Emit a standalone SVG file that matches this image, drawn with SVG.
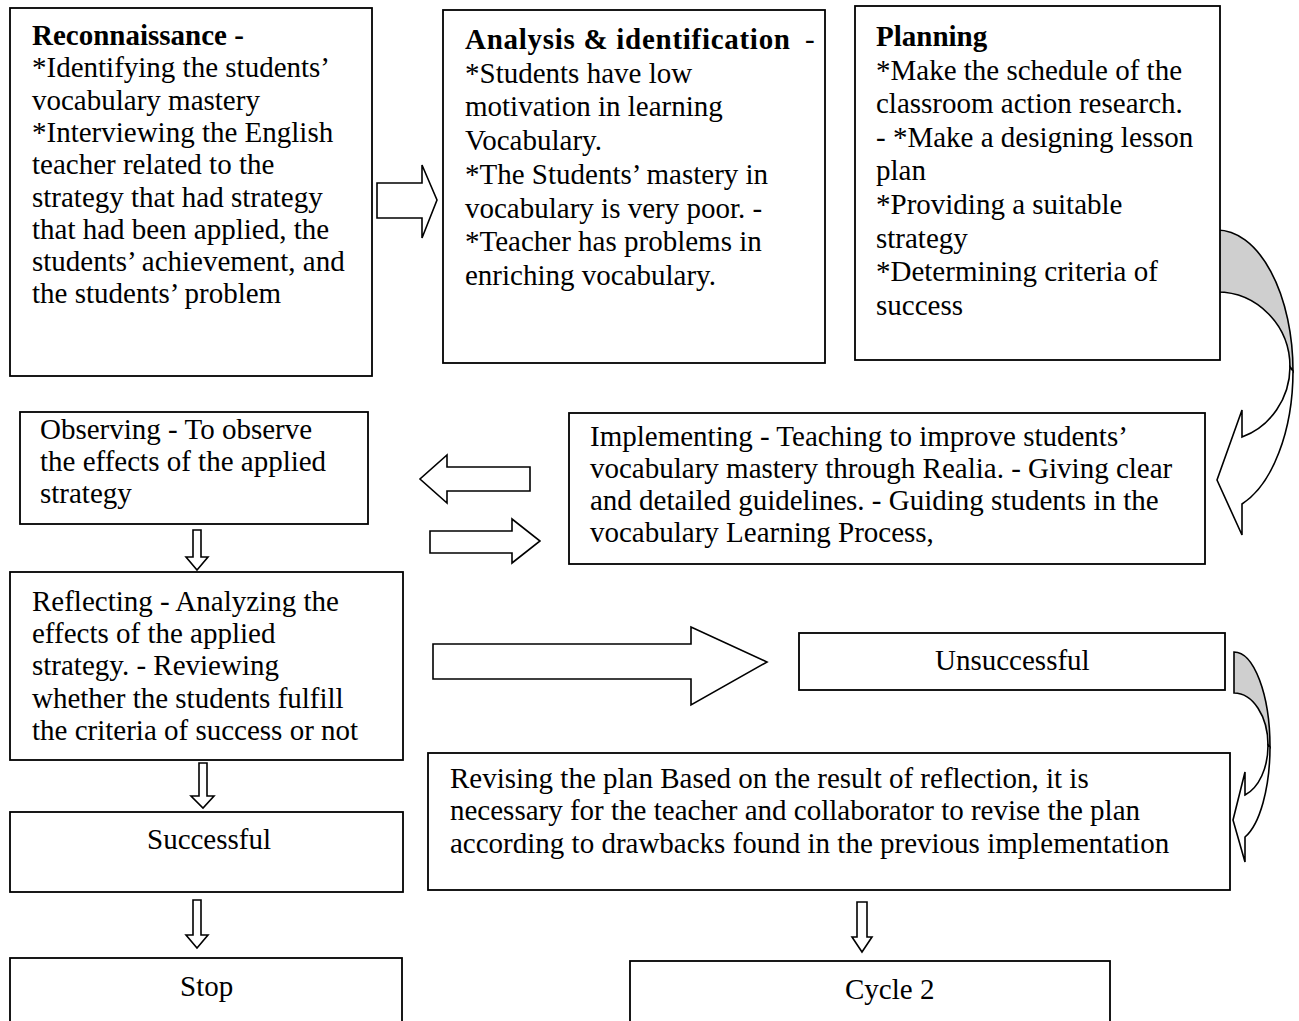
<svg xmlns="http://www.w3.org/2000/svg" width="1299" height="1021" viewBox="0 0 1299 1021">
<style>
.box{fill:#fff;stroke:#000;stroke-width:1.8}
.arr{fill:#fff;stroke:#000;stroke-width:1.6;stroke-linejoin:miter}
.shade{fill:#cfcfcf;stroke:#000;stroke-width:1.6}
text{font-family:"Liberation Serif","Times New Roman",serif;font-size:29px;fill:#000}
.b{font-weight:bold}
</style>
<rect width="1299" height="1021" fill="#fff"/>
<g id="connectors">
<polygon class="arr" points="377,183 422,183 422,165 437,200 422,238 422,218 377,218"/>
<polygon class="arr" points="530,467 447,467 447,455 420,479 447,503 447,491 530,491"/>
<polygon class="arr" points="430,531 512,531 512,519 540,541 512,563 512,553 430,553"/>
<polygon class="arr" points="433,644 691,644 691,627 767,662 691,705 691,679 433,679"/>
<polygon class="arr" points="193,530 201,530 201,557 208,557 197,570 186,557 193,557"/>
<polygon class="arr" points="199,763 207,763 207,796 214,796 203,808 191,796 199,796"/>
<polygon class="arr" points="193,900 201,900 201,935 208,935 197,948 186,935 193,935"/>
<polygon class="arr" points="857,902 867,902 867,937 872,937 862,952 852,937 857,937"/>
<path class="shade" d="M1217,230 A76,141 0 0 1 1293,371 L1290,367 A73,75 0 0 0 1217,292 Z"/>
<path class="arr" d="M1293,371 A76,141 0 0 1 1242,504 L1242,535 L1217,480 L1242,410 L1242,437 A73,75 0 0 0 1290,367 Z"/>
<path class="shade" d="M1234,652 A36,95 0 0 1 1270,747 L1268,745 A34,52 0 0 0 1234,693 Z"/>
<path class="arr" d="M1270,747 A36,95 0 0 1 1245,837 L1245,862 L1233,820 L1245,772 L1245,795 A34,52 0 0 0 1268,745 Z"/>
</g>
<g id="reconnaissance">
<rect class="box" x="10" y="8" width="362" height="368"/>
<text x="32" y="45"><tspan class="b">Reconnaissance -</tspan></text>
<text x="32" y="77.3">*Identifying the students’</text>
<text x="32" y="109.6">vocabulary mastery</text>
<text x="32" y="141.9">*Interviewing the English</text>
<text x="32" y="174.2">teacher related to the</text>
<text x="32" y="206.5">strategy that had strategy</text>
<text x="32" y="238.8">that had been applied, the</text>
<text x="32" y="271.1">students’ achievement, and</text>
<text x="32" y="303.4">the students’ problem</text>
</g>
<g id="analysis">
<rect class="box" x="443" y="10" width="382" height="353"/>
<text x="465" y="49"><tspan class="b" textLength="325" lengthAdjust="spacing">Analysis &amp; identification</tspan><tspan x="805">-</tspan></text>
<text x="465" y="82.7">*Students have low</text>
<text x="465" y="116.4">motivation in learning</text>
<text x="465" y="150.1">Vocabulary.</text>
<text x="465" y="183.8">*The Students’ mastery in</text>
<text x="465" y="217.5">vocabulary is very poor. -</text>
<text x="465" y="251.2">*Teacher has problems in</text>
<text x="465" y="284.9">enriching vocabulary.</text>
</g>
<g id="planning">
<rect class="box" x="855" y="6" width="365" height="354"/>
<text x="876" y="46"><tspan class="b">Planning</tspan></text>
<text x="876" y="79.6">*Make the schedule of the</text>
<text x="876" y="113.2">classroom action research.</text>
<text x="876" y="146.8">- *Make a designing lesson</text>
<text x="876" y="180.4">plan</text>
<text x="876" y="214">*Providing a suitable</text>
<text x="876" y="247.6">strategy</text>
<text x="876" y="281.2">*Determining criteria of</text>
<text x="876" y="314.8">success</text>
</g>
<g id="observing">
<rect class="box" x="20" y="412" width="348" height="112"/>
<text x="40" y="439">Observing - To observe</text>
<text x="40" y="471">the effects of the applied</text>
<text x="40" y="503">strategy</text>
</g>
<g id="implementing">
<rect class="box" x="569" y="413" width="636" height="151"/>
<text x="590" y="446">Implementing - Teaching to improve students’</text>
<text x="590" y="478">vocabulary mastery through Realia. - Giving clear</text>
<text x="590" y="510">and detailed guidelines. - Guiding students in the</text>
<text x="590" y="542">vocabulary Learning Process,</text>
</g>
<g id="reflecting">
<rect class="box" x="10" y="572" width="393" height="188"/>
<text x="32" y="611">Reflecting - Analyzing the</text>
<text x="32" y="643">effects of the applied</text>
<text x="32" y="675">strategy. - Reviewing</text>
<text x="32" y="708">whether the students fulfill</text>
<text x="32" y="740">the criteria of success or not</text>
</g>
<g id="unsuccessful">
<rect class="box" x="799" y="633" width="426" height="57"/>
<text x="935" y="670">Unsuccessful</text>
</g>
<g id="successful">
<rect class="box" x="10" y="812" width="393" height="80"/>
<text x="147" y="849">Successful</text>
</g>
<g id="revising">
<rect class="box" x="428" y="753" width="802" height="137"/>
<text x="450" y="788">Revising the plan Based on the result of reflection, it is</text>
<text x="450" y="820">necessary for the teacher and collaborator to revise the plan</text>
<text x="450" y="853">according to drawbacks found in the previous implementation</text>
</g>
<g id="stop">
<rect class="box" x="10" y="958" width="392" height="70"/>
<text x="180" y="996">Stop</text>
</g>
<g id="cycle2">
<rect class="box" x="630" y="961" width="480" height="70"/>
<text x="845" y="999">Cycle 2</text>
</g>
</svg>
